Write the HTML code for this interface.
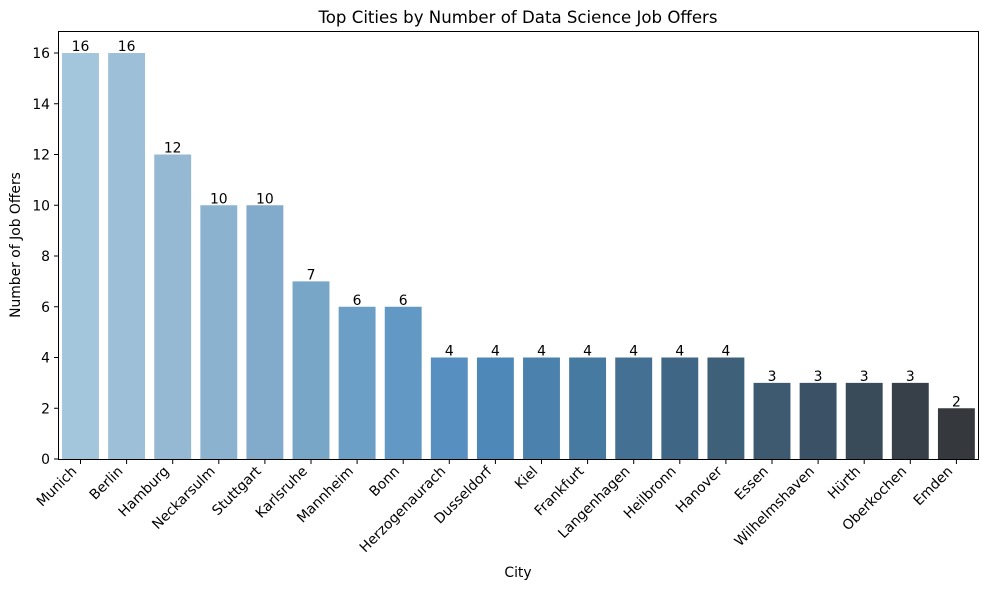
<!DOCTYPE html>
<html><head><meta charset="utf-8"><style>body{margin:0;background:#fff}svg{display:block}text{font-family:"DejaVu Sans","Liberation Sans",sans-serif}</style></head>
<body>
<svg width="989" height="589" viewBox="0 0 989 589" xmlns="http://www.w3.org/2000/svg">
<rect width="989" height="589" fill="#fff"/>
<text x="518" y="23" font-size="16.6" text-anchor="middle">Top Cities by Number of Data Science Job Offers</text>
<g id="bars"></g>
<rect x="58.5" y="31.5" width="920" height="428" fill="none" stroke="#000" stroke-width="1"/>
<g font-size="13.9" text-anchor="end" id="yt"></g>
<g font-size="13.9" id="xt"></g>
<g font-size="13.9" text-anchor="middle" id="vl"></g>
<text x="518" y="577" font-size="13.9" text-anchor="middle">City</text>
<text transform="translate(20,245) rotate(-90)" font-size="13.9" text-anchor="middle">Number of Job Offers</text>
<script>
const ns="http://www.w3.org/2000/svg";
const d=[["Munich",16],["Berlin",16],["Hamburg",12],["Neckarsulm",10],["Stuttgart",10],["Karlsruhe",7],["Mannheim",6],["Bonn",6],["Herzogenaurach",4],["Dusseldorf",4],["Kiel",4],["Frankfurt",4],["Langenhagen",4],["Heilbronn",4],["Hanover",4],["Essen",3],["Wilhelmshaven",3],["Hürth",3],["Oberkochen",3],["Emden",2]];
const c=["#a3c6dd","#9dc0d8","#95b9d3","#8bb3cf","#82abcb","#77a6c6","#6c9fc5","#6198c4","#568fc0","#4e88b9","#4a82ad","#477aa0","#437093","#406686","#3e6079","#3d5a71","#3b5266","#394a58","#373f48","#35393d"];
function el(t,a,p,txt){const e=document.createElementNS(ns,t);for(const k in a)e.setAttribute(k,a[k]);if(txt!==undefined)e.textContent=txt;document.getElementById(p).appendChild(e);}
const y0=459,u=25.375,sp=46.1,x0=80.5,w=36.9;
d.forEach((r,i)=>{const cx=x0+i*sp,h=r[1]*u;
el("rect",{x:cx-w/2,y:y0-h,width:w,height:h,fill:c[i]},"bars");
el("text",{x:cx,y:y0-h-2},"vl",r[1]);
el("line",{x1:cx,x2:cx,y1:459.5,y2:464,stroke:"#000"},"xt");
el("text",{x:0,y:0,"text-anchor":"end",transform:`translate(${cx-3},${472}) rotate(-45)`},"xt",r[0]);});
for(let v=0;v<=16;v+=2){const y=y0-v*u;el("line",{x1:54,x2:58.5,y1:y,y2:y,stroke:"#000"},"yt");el("text",{x:50,y:y+5},"yt",v);}
</script>
</svg>
</body></html>
